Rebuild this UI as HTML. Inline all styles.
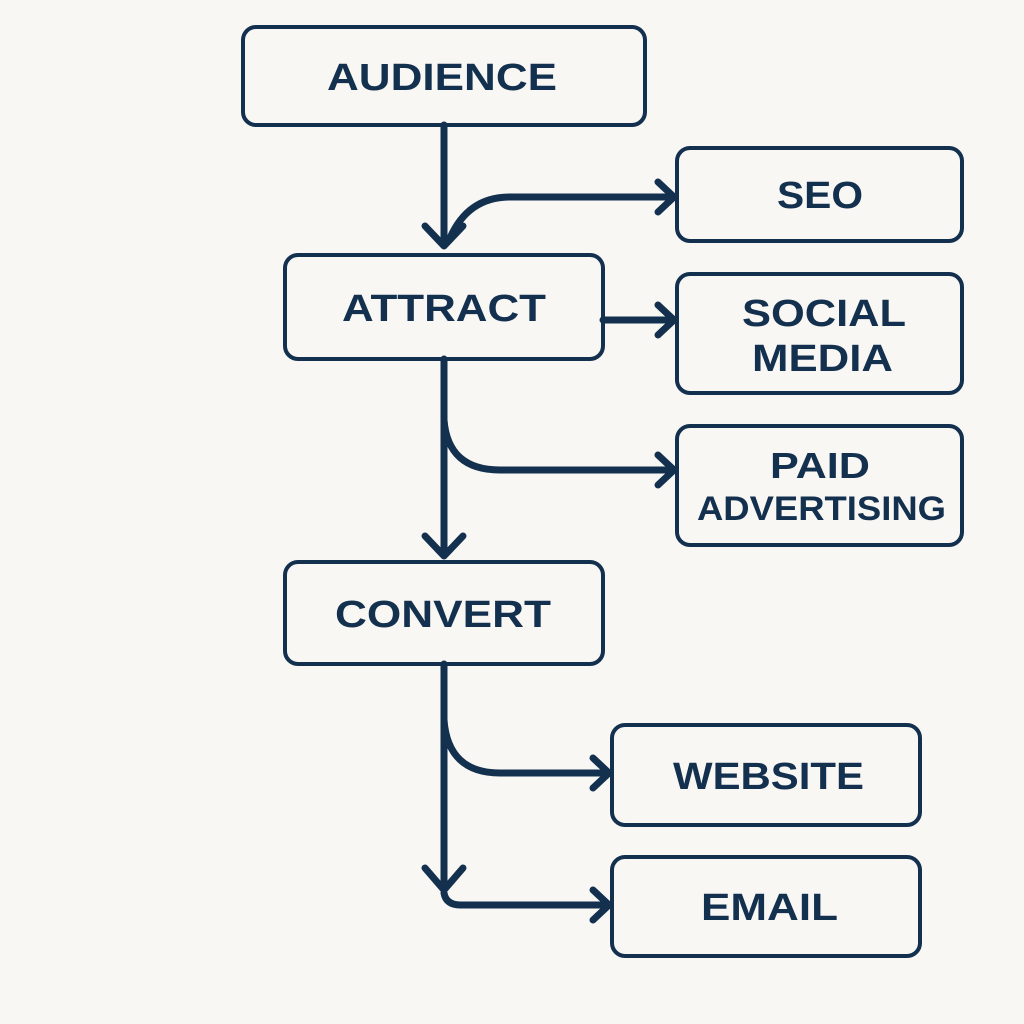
<!DOCTYPE html>
<html><head><meta charset="utf-8"><style>
html,body{margin:0;padding:0;background:#f9f7f4;}
svg{display:block}
text{font-family:"Liberation Sans",sans-serif;font-weight:bold;fill:#13304f;}
</style></head><body>
<svg width="1024" height="1024" viewBox="0 0 1024 1024">
<rect width="1024" height="1024" fill="#f9f7f4"/>
<g fill="none" stroke="#13304f" stroke-width="4">
<rect x="243" y="27" width="402" height="98" rx="13"/>
<rect x="677" y="148" width="285" height="93" rx="13"/>
<rect x="285" y="255" width="318" height="104" rx="13"/>
<rect x="677" y="274" width="285" height="119" rx="13"/>
<rect x="677" y="426" width="285" height="119" rx="13"/>
<rect x="285" y="562" width="318" height="102" rx="13"/>
<rect x="612" y="725" width="308" height="100" rx="13"/>
<rect x="612" y="857" width="308" height="99" rx="13"/>
</g>
<g fill="none" stroke="#13304f" stroke-width="7" stroke-linecap="round" stroke-linejoin="round">
<path d="M444 125 V245"/>
<path d="M425 226 L444 246 L463 226"/>
<path d="M450 238 Q468 197 510 197 H673"/>
<path d="M658 182 L674 197 L658 212"/>
<path d="M603 320 H673"/>
<path d="M658 305 L674 320 L658 335"/>
<path d="M444 359 V555"/>
<path d="M425 536 L444 556 L463 536"/>
<path d="M444 420 Q448 470 500 470 H673"/>
<path d="M658 455 L674 470 L658 485"/>
<path d="M444 664 V890"/>
<path d="M425 868 L444 890 L463 868"/>
<path d="M444 720 Q448 773 500 773 H608"/>
<path d="M593 758 L609 773 L593 788"/>
<path d="M444 893 Q446 905 460 905 H608"/>
<path d="M593 890 L609 905 L593 920"/>
</g>
<text x="327" y="90" font-size="38" textLength="230" lengthAdjust="spacingAndGlyphs">AUDIENCE</text>
<text x="777" y="208" font-size="38" textLength="86" lengthAdjust="spacingAndGlyphs">SEO</text>
<text x="342" y="321" font-size="38" textLength="204" lengthAdjust="spacingAndGlyphs">ATTRACT</text>
<text x="742" y="326" font-size="38" textLength="164" lengthAdjust="spacingAndGlyphs">SOCIAL</text>
<text x="752" y="371" font-size="38" textLength="141" lengthAdjust="spacingAndGlyphs">MEDIA</text>
<text x="770" y="478" font-size="36" textLength="100" lengthAdjust="spacingAndGlyphs">PAID</text>
<text x="697" y="520" font-size="34" textLength="249" lengthAdjust="spacingAndGlyphs">ADVERTISING</text>
<text x="335" y="627" font-size="38" textLength="216" lengthAdjust="spacingAndGlyphs">CONVERT</text>
<text x="673" y="789" font-size="38" textLength="191" lengthAdjust="spacingAndGlyphs">WEBSITE</text>
<text x="701" y="920" font-size="38" textLength="137" lengthAdjust="spacingAndGlyphs">EMAIL</text>
</svg>
</body></html>
